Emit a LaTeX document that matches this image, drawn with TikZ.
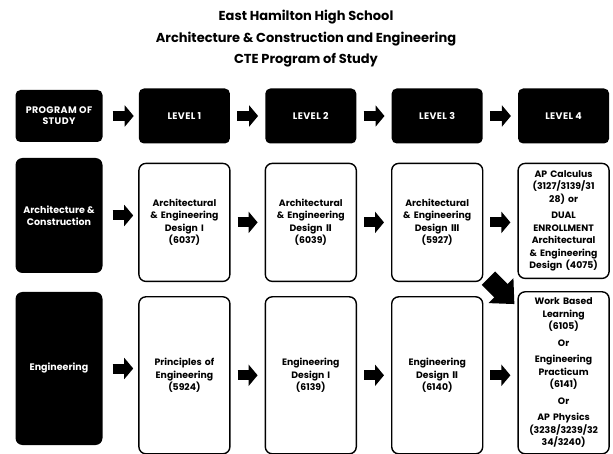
\documentclass[tikz,border=0pt]{standalone}
\usepackage{fontspec}
\setmainfont{Poppins}
\newfontfamily\numfont{DejaVu Sans}
\usetikzlibrary{positioning,arrows.meta}

\begin{document}
\begin{tikzpicture}[x=1pt, y=1pt, node distance = 35pt,
HeadStyle/.style={fill=black, rounded corners=5pt, text=white, minimum width=91pt,
                minimum height=55pt, align=center,
                font=\bfseries\fontsize{9.5}{11}\selectfont\addfontfeature{LetterSpace=4}},
SideStyle/.style={fill=black, rounded corners=7pt, text=white, minimum width=87pt,
                align=center, font=\bfseries\fontsize{9.5}{12.5}\selectfont},
CourseStyle/.style={draw, line width=1.4pt, rounded corners=7pt, text width=86pt,
                minimum width=91pt, inner sep=2pt, align=center,
                font=\bfseries\fontsize{9.3}{12.5}\selectfont},
ArrowStyle/.style={line width=10pt, -{Triangle[width=21pt, length=9pt]},
                shorten <=7pt, shorten >=7pt},]
\useasboundingbox (0,0) rectangle (613,-454);
\node [align=center, font=\bfseries\fontsize{13}{21.5}\selectfont] (title) at (306,-39)
  {East Hamilton High School\\Architecture \& Construction and Engineering\\CTE Program of Study};
% header row
\node [HeadStyle, minimum width=87pt, minimum height=52pt] (h0) at (59,-116) {PROGRAM OF\\STUDY};
\node [HeadStyle, right=36pt of h0] (h1) {LEVEL 1};
\node [HeadStyle, right=of h1] (h2) {LEVEL 2};
\node [HeadStyle, right=of h2] (h3) {LEVEL 3};
\node [HeadStyle, right=of h3] (h4) {LEVEL 4};
% architecture & construction
\node [SideStyle, minimum height=115pt] (a0) at (59,-215.5) {Architecture \&\\Construction};
\node [CourseStyle, minimum height=118pt, below=19pt of h1] (a1)
  {Architectural\\\& Engineering\\Design I\\(6037)};
\node [CourseStyle, minimum height=118pt, below=19pt of h2] (a2)
  {Architectural\\\& Engineering\\Design {\numfont Ⅱ}\\(6039)};
\node [CourseStyle, minimum height=118pt, below=19pt of h3] (a3)
  {Architectural\\\& Engineering\\Design {\numfont Ⅲ}\\(5927)};
\node [CourseStyle, minimum height=115pt, below=19pt of h4] (a4)
  {AP Calculus\\(3127/3139/31\\28) or\\[4pt]DUAL\\ENROLLMENT\\Architectural\\\& Engineering\\Design (4075)};
% engineering
\node [SideStyle, minimum height=153pt] (e0) at (59,-368.5) {Engineering};
\node [CourseStyle, minimum height=157pt, below=14pt of a1] (e1)
  {Principles of\\Engineering\\(5924)};
\node [CourseStyle, minimum height=157pt, below=14pt of a2] (e2)
  {Engineering\\Design I\\(6139)};
\node [CourseStyle, minimum height=157pt, below=14pt of a3] (e3)
  {Engineering\\Design {\numfont Ⅱ}\\(6140)};
\node [CourseStyle, minimum height=162pt, below=12pt of a4] (e4)
  {Work Based\\Learning\\(6105)\\[4pt]Or\\[4pt]Engineering\\Practicum\\(6141)\\[4pt]Or\\[4pt]AP Physics\\(3238/3239/32\\34/3240)};
% arrows
\draw [ArrowStyle, shorten <=10pt, shorten >=5pt] (h0) -- (h1);
\draw [ArrowStyle] (h1) -- (h2);
\draw [ArrowStyle] (h2) -- (h3);
\draw [ArrowStyle] (h3) -- (h4);
\draw [ArrowStyle, shorten <=10pt, shorten >=5pt] (a0.east) -- (a0.east -| a1.west);
\draw [ArrowStyle] (a1) -- (a2);
\draw [ArrowStyle] (a2) -- (a3);
\draw [ArrowStyle] (a3.east) -- (a3.east -| a4.west);
\draw [ArrowStyle, shorten <=10pt, shorten >=5pt] (e0.east) -- (e0.east -| e1.west);
\draw [ArrowStyle] (e1) -- (e2);
\draw [ArrowStyle] (e2) -- (e3);
\draw [ArrowStyle] (e3.east) -- (e3.east -| e4.west);
\coordinate (dtail) at ([shift={(5,4)}]a3.south east);
\coordinate (dtip) at ([shift={(-3,-13)}]e4.north west);
\draw [line width=19pt, -{Triangle[width=34pt, length=19pt]}] (dtail) -- (dtip);
\end{tikzpicture}
\end{document}
